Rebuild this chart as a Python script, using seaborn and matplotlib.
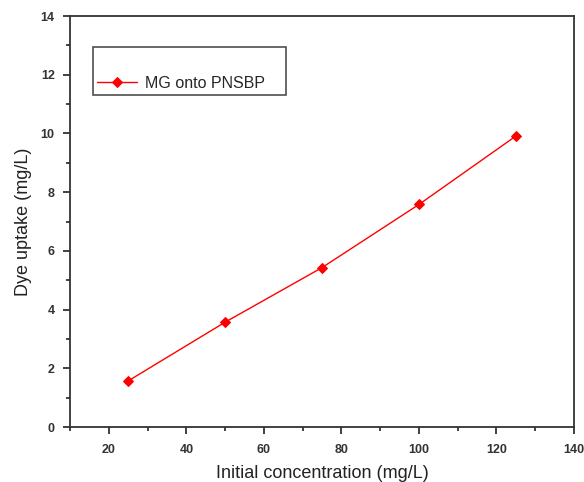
import matplotlib
matplotlib.use("Agg")
import matplotlib.pyplot as plt
import seaborn as sns
import pandas as pd
from matplotlib.ticker import MultipleLocator

conc = [25, 50, 75, 100, 125]
uptake = [1.57, 3.57, 5.43, 7.58, 9.91]
series_name = "MG onto PNSBP"

sns.set_theme(style="ticks")
plt.rcParams['font.family'] = ['Liberation Sans', 'DejaVu Sans']

df = pd.DataFrame({"conc": conc, "uptake": uptake, "series": series_name})

fig = plt.figure(figsize=(5.84, 4.82), dpi=100)
ax = fig.add_axes([0.1199, 0.1141, 0.863, 0.8527])

sns.lineplot(data=df, x="conc", y="uptake", hue="series", palette=["#ff0000"],
             marker="D", markersize=5.5, markeredgecolor="#ff0000", linewidth=1,
             ax=ax)

ax.set_xlim(10, 140)
ax.set_ylim(0, 14)
ax.xaxis.set_major_locator(MultipleLocator(20))
ax.xaxis.set_minor_locator(MultipleLocator(10))
ax.yaxis.set_major_locator(MultipleLocator(2))
ax.yaxis.set_minor_locator(MultipleLocator(1))
ax.set_xticks([20, 40, 60, 80, 100, 120, 140])
ax.tick_params(which="major", direction="out", length=5, width=1.3, color="#333333",
               labelsize=9, labelcolor="#333333")
ax.tick_params(axis="x", which="major", pad=7)
ax.tick_params(axis="y", which="major", pad=6)
ax.tick_params(which="minor", direction="out", length=3, width=1.3, color="#333333")
for lab in ax.get_xticklabels() + ax.get_yticklabels():
    lab.set_fontweight("bold")
for s in ax.spines.values():
    s.set_linewidth(1.3)
    s.set_color("#333333")

ax.set_xlabel("Initial concentration (mg/L)", fontsize=13, color="#222222", labelpad=7)
ax.set_ylabel("Dye uptake (mg/L)", fontsize=13, color="#222222", labelpad=6)

leg = ax.legend(loc="upper left", bbox_to_anchor=(0.0456, 0.5, 0.383, 0.4246),
                mode="expand", frameon=True, fancybox=False, fontsize=11.5,
                handlelength=2.5, handletextpad=0.5, borderpad=0.25,
                borderaxespad=0, title=" ", title_fontsize=13,
                edgecolor="#222222")
leg.get_frame().set_linewidth(1.2)

fig.savefig("out.png", dpi=100)
